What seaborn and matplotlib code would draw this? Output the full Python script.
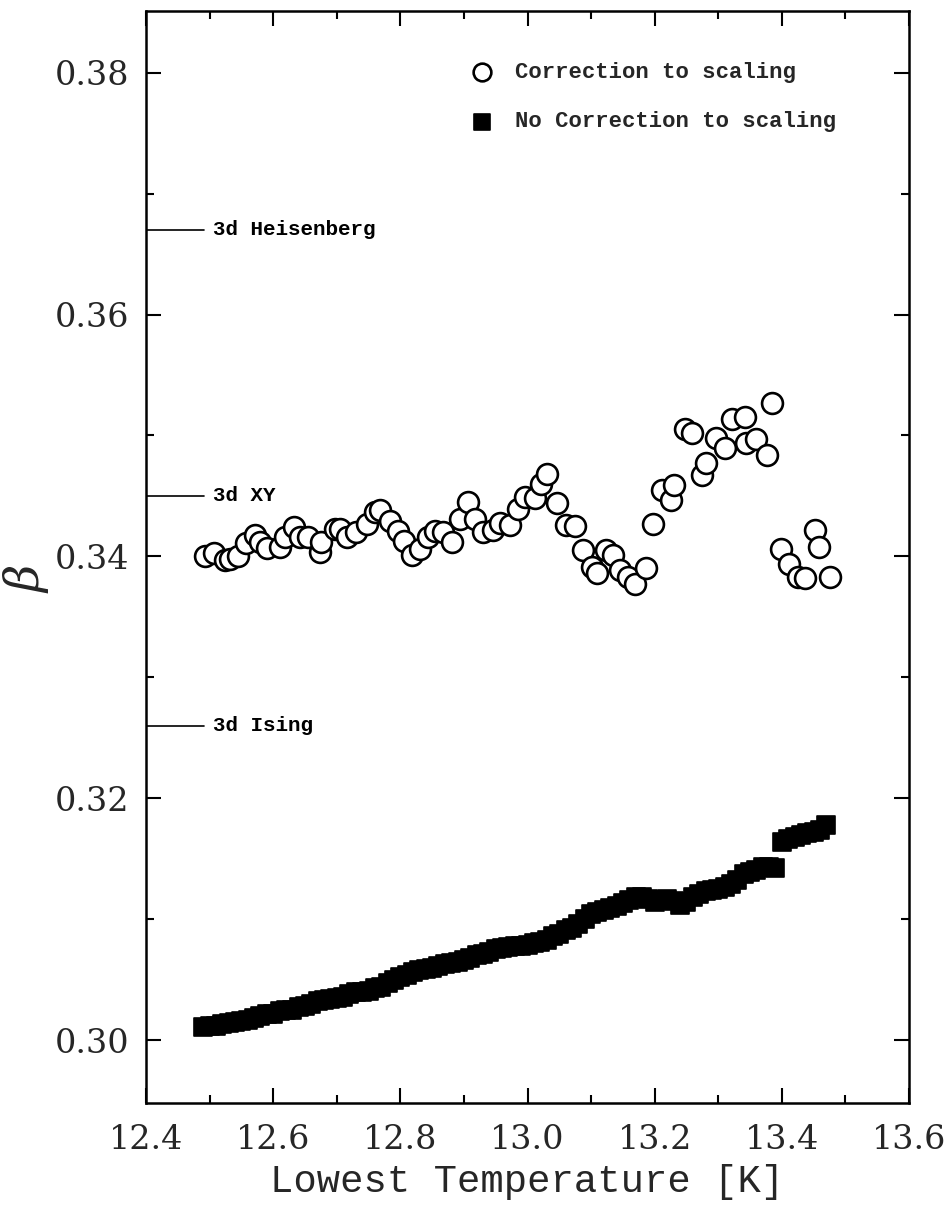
import numpy as np
import pandas as pd
import matplotlib
matplotlib.use("Agg")
import matplotlib.pyplot as plt
from matplotlib.ticker import MultipleLocator, FormatStrFormatter
import seaborn as sns

# ---- data: "Correction to scaling" (open circles) ----
corr_T = [12.493, 12.507, 12.524, 12.532, 12.545, 12.558, 12.571, 12.579, 12.590, 12.611,
          12.619, 12.632, 12.642, 12.655, 12.674, 12.676, 12.697, 12.705, 12.716, 12.731,
          12.747, 12.760, 12.768, 12.784, 12.797, 12.805, 12.819, 12.831, 12.844, 12.854,
          12.867, 12.882, 12.894, 12.907, 12.917, 12.930, 12.946, 12.957, 12.972, 12.985,
          12.996, 13.012, 13.022, 13.031, 13.046, 13.061, 13.075, 13.087, 13.101, 13.109,
          13.123, 13.135, 13.145, 13.158, 13.169, 13.186, 13.198, 13.211, 13.225, 13.230,
          13.247, 13.258, 13.274, 13.281, 13.297, 13.310, 13.321, 13.342, 13.344, 13.360,
          13.376, 13.384, 13.398, 13.411, 13.425, 13.436, 13.452, 13.459, 13.475]
corr_beta = [0.3400, 0.3403, 0.3397, 0.3398, 0.3400, 0.3411, 0.3418, 0.3412, 0.3407, 0.3408,
             0.3416, 0.3424, 0.3416, 0.3416, 0.3404, 0.3412, 0.3423, 0.3423, 0.3416, 0.3420,
             0.3427, 0.3437, 0.3438, 0.3429, 0.3421, 0.3413, 0.3401, 0.3406, 0.3416, 0.3421,
             0.3420, 0.3412, 0.3431, 0.3445, 0.3431, 0.3420, 0.3422, 0.3428, 0.3426, 0.3439,
             0.3449, 0.3448, 0.3460, 0.3468, 0.3444, 0.3426, 0.3425, 0.3405, 0.3391, 0.3386,
             0.3405, 0.3401, 0.3389, 0.3383, 0.3377, 0.3390, 0.3427, 0.3455, 0.3447, 0.3459,
             0.3505, 0.3502, 0.3467, 0.3477, 0.3498, 0.3490, 0.3514, 0.3515, 0.3494, 0.3497,
             0.3484, 0.3527, 0.3406, 0.3394, 0.3383, 0.3382, 0.3422, 0.3408, 0.3383]

# ---- data: "No Correction to scaling" (filled squares) ----
nocorr_T = [12.49, 12.50, 12.51, 12.52, 12.53, 12.54, 12.55, 12.56, 12.57, 12.58,
            12.59, 12.60, 12.61, 12.62, 12.63, 12.64, 12.65, 12.66, 12.67, 12.68,
            12.69, 12.70, 12.71, 12.72, 12.73, 12.74, 12.75, 12.76, 12.77, 12.78,
            12.79, 12.80, 12.81, 12.82, 12.83, 12.84, 12.85, 12.86, 12.87, 12.88,
            12.89, 12.90, 12.91, 12.92, 12.93, 12.94, 12.95, 12.96, 12.97, 12.98,
            12.99, 13.00, 13.01, 13.02, 13.03, 13.04, 13.05, 13.06, 13.07, 13.08,
            13.09, 13.10, 13.11, 13.12, 13.13, 13.14, 13.15, 13.16, 13.17, 13.18,
            13.19, 13.20, 13.21, 13.22, 13.23, 13.24, 13.25, 13.26, 13.27, 13.28,
            13.29, 13.30, 13.31, 13.32, 13.33, 13.34, 13.35, 13.36, 13.37, 13.38,
            13.39, 13.40, 13.41, 13.42, 13.43, 13.44, 13.45, 13.46, 13.47]
nocorr_beta = [0.3011, 0.3012, 0.3012, 0.3013, 0.3014, 0.3015, 0.3016, 0.3017, 0.3018, 0.3020,
               0.3022, 0.3022, 0.3024, 0.3025, 0.3025, 0.3027, 0.3028, 0.3030, 0.3032, 0.3033,
               0.3034, 0.3035, 0.3036, 0.3038, 0.3040, 0.3040, 0.3041, 0.3043, 0.3044, 0.3047,
               0.3050, 0.3052, 0.3054, 0.3056, 0.3058, 0.3059, 0.3060, 0.3061, 0.3063, 0.3064,
               0.3065, 0.3066, 0.3068, 0.3070, 0.3071, 0.3073, 0.3075, 0.3076, 0.3077, 0.3078,
               0.3078, 0.3079, 0.3080, 0.3081, 0.3083, 0.3086, 0.3088, 0.3091, 0.3093, 0.3096,
               0.3100, 0.3104, 0.3106, 0.3108, 0.3109, 0.3111, 0.3113, 0.3116, 0.3118, 0.3118,
               0.3117, 0.3114, 0.3116, 0.3117, 0.3115, 0.3112, 0.3114, 0.3118, 0.3121, 0.3123,
               0.3124, 0.3125, 0.3127, 0.3129, 0.3132, 0.3137, 0.3139, 0.3141, 0.3143, 0.3143,
               0.3142, 0.3164, 0.3166, 0.3168, 0.3170, 0.3171, 0.3172, 0.3174, 0.3178]

# ---- reference universality-class values ----
ref_labels = ["3d Heisenberg", "3d XY", "3d Ising"]
ref_beta = [0.367, 0.345, 0.326]

series_labels = ["Correction to scaling", "No Correction to scaling"]
x_ticks = [12.4, 12.6, 12.8, 13.0, 13.2, 13.4, 13.6]
y_ticks = [0.30, 0.32, 0.34, 0.36, 0.38]

sns.set_theme(style="ticks")
plt.rcParams["font.family"] = ["DejaVu Serif", "DejaVu Sans"]
plt.rcParams["mathtext.fontset"] = "dejavuserif"

fig = plt.figure(figsize=(9.51, 12.24), dpi=100)
ax = fig.add_axes([146 / 951, 1 - 1103 / 1224, (909 - 146) / 951, (1103 - 11) / 1224])

df_c = pd.DataFrame({"T": corr_T, "beta": corr_beta})
df_n = pd.DataFrame({"T": nocorr_T, "beta": nocorr_beta})

sns.scatterplot(data=df_n, x="T", y="beta", marker="s", s=165, color="black",
                edgecolor="black", linewidth=1.2, label=series_labels[1], ax=ax, zorder=3)
sns.scatterplot(data=df_c, x="T", y="beta", marker="o", s=225, facecolor="white",
                edgecolor="black", linewidth=1.9, label=series_labels[0], ax=ax, zorder=4)

mono = ["Liberation Mono", "DejaVu Sans Mono"]
for lab, b in zip(ref_labels, ref_beta):
    ax.plot([12.4, 12.492], [b, b], color="black", lw=1.2, zorder=2)
    ax.text(12.505, b, lab, va="center", ha="left", fontsize=15, fontweight="bold",
            family=mono, color="black")

ax.set_xlim(12.4, 13.6)
ax.set_ylim(0.2948, 0.3851)
ax.set_xticks(x_ticks)
ax.set_yticks(y_ticks)
ax.xaxis.set_major_formatter(FormatStrFormatter("%.1f"))
ax.yaxis.set_major_formatter(FormatStrFormatter("%.2f"))
ax.xaxis.set_minor_locator(MultipleLocator(0.1))
ax.yaxis.set_minor_locator(MultipleLocator(0.01))
ax.tick_params(which="both", direction="in", top=True, right=True, width=1.5, color="black")
ax.tick_params(which="major", length=11, labelsize=24, pad=12)
ax.tick_params(axis="x", which="major", pad=15)
ax.tick_params(which="minor", length=6)
for sp in ax.spines.values():
    sp.set_linewidth(1.8)
    sp.set_color("black")

ax.set_xlabel("Lowest Temperature [K]", fontsize=28, family=mono, labelpad=6)
ax.set_ylabel(r"$\beta$", fontsize=34)
ax.yaxis.set_label_coords(-0.125, 0.48)

handles, labels = ax.get_legend_handles_labels()
order = [labels.index(series_labels[0]), labels.index(series_labels[1])]
leg = ax.legend([handles[i] for i in order], [labels[i] for i in order],
                loc="upper left", bbox_to_anchor=(0.385, 0.972), frameon=False,
                prop={"family": mono, "size": 16, "weight": "bold"},
                handletextpad=0.5, labelspacing=1.3, markerscale=0.85)

fig.savefig("out.png", dpi=100)
